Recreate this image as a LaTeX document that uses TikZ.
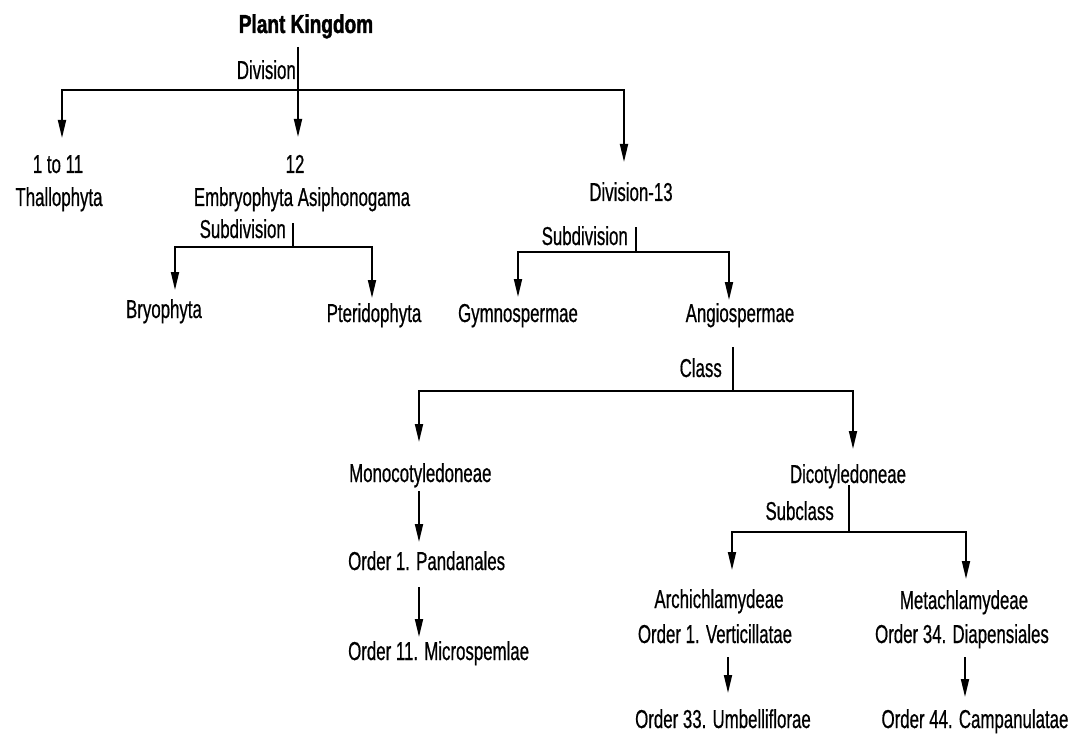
\documentclass[tikz,border=0pt]{standalone}
\usepackage{fontspec}
\usetikzlibrary{arrows.meta}
\newfontfamily\condsans{Liberation Sans}[FakeStretch=0.65,FakeBold=0.6]
\newfontfamily\condsansbold{Liberation Sans}[FakeStretch=0.735,FakeBold=1.5]
\tikzset{
  lbl/.style={font={\condsans\fontsize{26}{30}\selectfont}, inner sep=0pt, anchor=base},
  titlelbl/.style={font={\condsansbold\fontsize{26}{30}\selectfont\bfseries}, inner sep=0pt, anchor=base},
  link/.style={line width=1.8bp},
  arr/.style={link, -{Triangle[length=18bp,width=8bp]}}
}
\begin{document}
\begin{tikzpicture}[x=1bp,y=-1bp]
\useasboundingbox (0,0) rectangle (1068,734);

% ---- root and divisions ----
\node[titlelbl] (pk) at (306,33) {Plant Kingdom};
\node[lbl, anchor=base east] (lDiv) at (296,79) {Division};
\coordinate (pkOut) at (298,47);
\coordinate (jDiv) at (298,90);
\coordinate (t1) at (62,138);
\coordinate (t12) at (298,137);
\coordinate (t13) at (624,162);
\draw[arr] (pkOut) -- (t12);
\draw[arr] (jDiv) -| (t1);
\draw[arr] (jDiv) -| (t13);

\node[lbl] (d1) at (58,173) {1 to 11};
\node[lbl] (thal) at (59,206) {Thallophyta};
\node[lbl] (d12) at (295,173) {12};
\node[lbl] (emb) at (302,206) {Embryophyta Asiphonogama};
\node[lbl] (d13) at (631,201) {Division-13};

% ---- subdivisions of Embryophyta Asiphonogama ----
\node[lbl, anchor=base east] (lSub1) at (286,238) {Subdivision};
\coordinate (s1Top) at (293,223);
\coordinate (s1J) at (293,247);
\coordinate (tBry) at (175,290);
\coordinate (tPte) at (372,298);
\draw[link] (s1Top) -- (s1J);
\draw[arr] (s1J) -| (tBry);
\draw[arr] (s1J) -| (tPte);
\node[lbl] (bry) at (164,318) {Bryophyta};
\node[lbl] (pte) at (374,322) {Pteridophyta};

% ---- subdivisions of Division-13 ----
\node[lbl, anchor=base east] (lSub2) at (628,245) {Subdivision};
\coordinate (s2Top) at (636,227);
\coordinate (s2J) at (636,252);
\coordinate (tGym) at (518,297);
\coordinate (tAng) at (729,300);
\draw[link] (s2Top) -- (s2J);
\draw[arr] (s2J) -| (tGym);
\draw[arr] (s2J) -| (tAng);
\node[lbl] (gym) at (518,322) {Gymnospermae};
\node[lbl] (ang) at (740,322) {Angiospermae};

% ---- classes of Angiospermae ----
\node[lbl, anchor=base east] (lCls) at (722,377) {Class};
\coordinate (cTop) at (733,347);
\coordinate (cJ) at (733,391);
\coordinate (tMon) at (419,442);
\coordinate (tDic) at (853,449);
\draw[link] (cTop) -- (cJ);
\draw[arr] (cJ) -| (tMon);
\draw[arr] (cJ) -| (tDic);
\node[lbl, anchor=base west] (mon) at (349,482) {Monocotyledoneae};
\node[lbl] (dic) at (848,483) {Dicotyledoneae};

% ---- Monocotyledoneae orders ----
\coordinate (m1Top) at (419,491);
\coordinate (m1Tip) at (419,542);
\draw[arr] (m1Top) -- (m1Tip);
\node[lbl, anchor=base west] (pan) at (348,570) {Order 1. Pandanales};
\coordinate (m2Top) at (419,587);
\coordinate (m2Tip) at (419,637);
\draw[arr] (m2Top) -- (m2Tip);
\node[lbl, anchor=base west] (mic) at (348,660) {Order 11. Microspemlae};

% ---- subclasses of Dicotyledoneae ----
\node[lbl, anchor=base east] (lSubc) at (834,520) {Subclass};
\coordinate (scTop) at (849,485);
\coordinate (scJ) at (849,532);
\coordinate (tArc) at (732,570);
\coordinate (tMet) at (966,579);
\draw[link] (scTop) -- (scJ);
\draw[arr] (scJ) -| (tArc);
\draw[arr] (scJ) -| (tMet);
\node[lbl] (arc) at (719,608) {Archichlamydeae};
\node[lbl] (ver) at (715,643) {Order 1. Verticillatae};
\node[lbl] (met) at (964,609) {Metachlamydeae};
\node[lbl] (dia) at (962,643) {Order 34. Diapensiales};

\coordinate (a1Top) at (728,657);
\coordinate (a1Tip) at (728,693);
\draw[arr] (a1Top) -- (a1Tip);
\node[lbl] (umb) at (723,728) {Order 33. Umbelliflorae};
\coordinate (b1Top) at (965,657);
\coordinate (b1Tip) at (965,697);
\draw[arr] (b1Top) -- (b1Tip);
\node[lbl] (cam) at (975,728) {Order 44. Campanulatae};
\end{tikzpicture}
\end{document}
